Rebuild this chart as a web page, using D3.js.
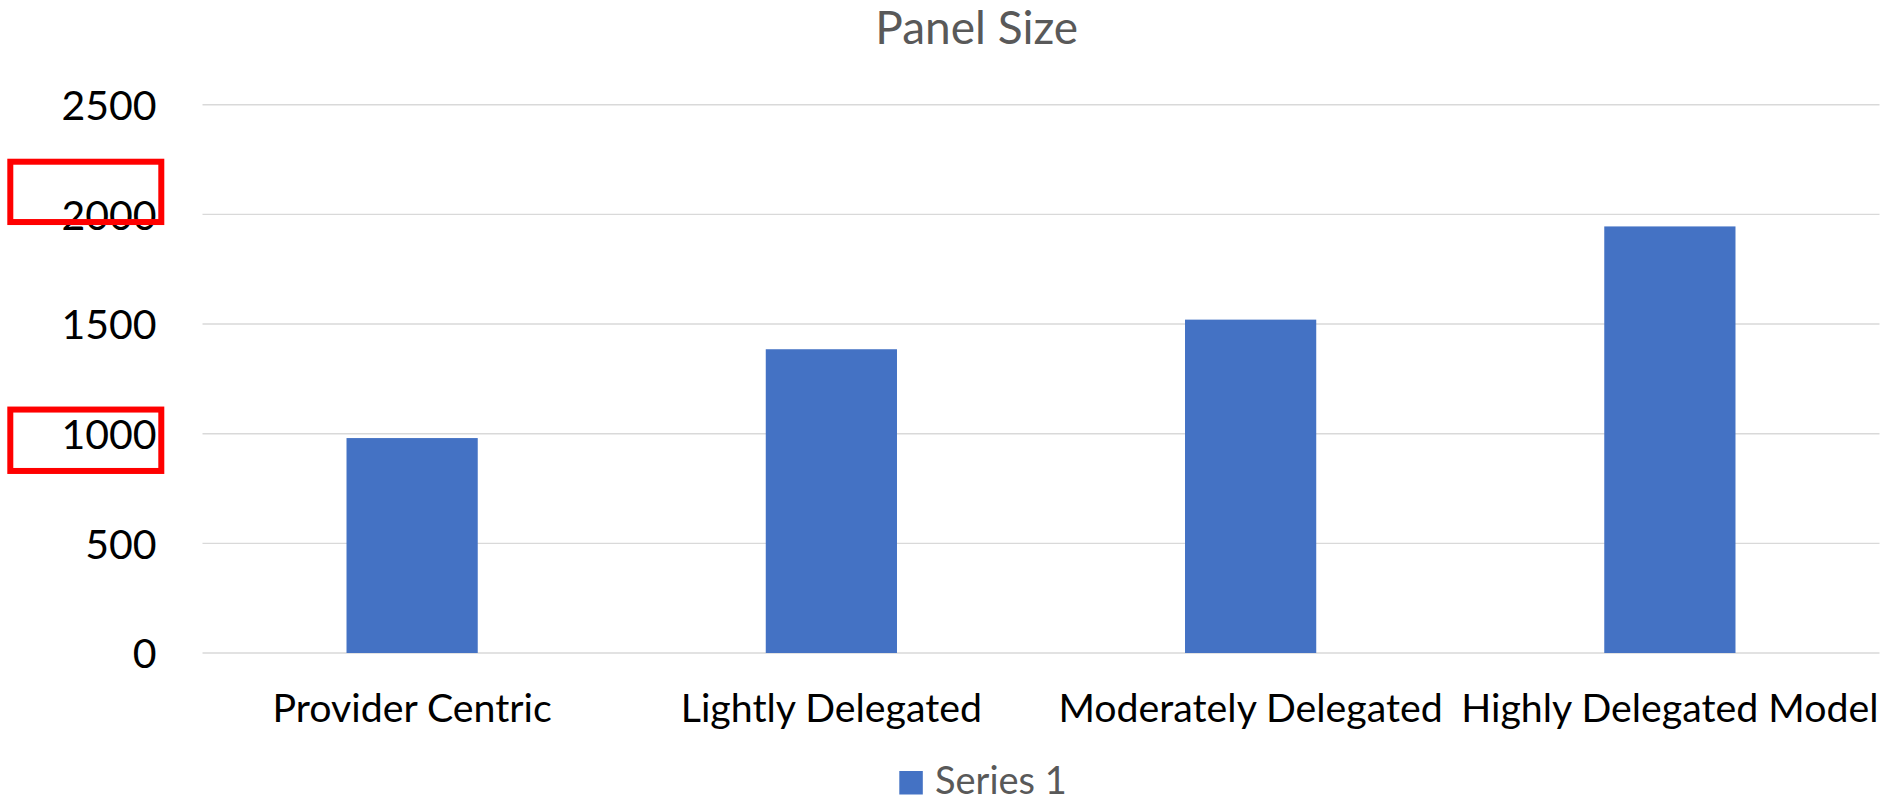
<!DOCTYPE html>
<html>
<head>
<meta charset="utf-8">
<script src="https://cdn.jsdelivr.net/npm/d3@7"></script>
<style>
  html, body { margin: 0; padding: 0; background: #fff; }
  svg { display: block; }
  text { font-family: Lato, "Open Sans", sans-serif; }
</style>
</head>
<body>
<svg id="chart" width="1890" height="800"></svg>
<script>
// Panel size by delegation model
const categories = ["Provider Centric", "Lightly Delegated", "Moderately Delegated", "Highly Delegated Model"];
const panelSize = [980, 1385, 1520, 1945];
const yTicks = [0, 500, 1000, 1500, 2000, 2500];
const seriesName = "Series 1";
const chartTitle = "Panel Size";
// highlighted value ranges on the y axis labels (data units)
const highlightRanges = [[1965, 2240], [830, 1110]];

const W = 1890, H = 800;
const margin = { left: 202.5, right: 10.5, top: 104.7, bottom: 147 };
const svg = d3.select("#chart");

const x = d3.scaleBand()
  .domain(categories)
  .range([margin.left, W - margin.right])
  .paddingInner(0.687)
  .paddingOuter(0.3435);

const y = d3.scaleLinear()
  .domain([0, 2500])
  .range([H - margin.bottom, margin.top]);

// gridlines
svg.append("g")
  .selectAll("line")
  .data(yTicks)
  .join("line")
  .attr("x1", margin.left)
  .attr("x2", W - margin.right)
  .attr("y1", d => y(d))
  .attr("y2", d => y(d))
  .attr("stroke", "#d9d9d9")
  .attr("stroke-width", 1.4);

// y axis labels
const yAxis = d3.axisLeft(y).tickValues(yTicks).tickSize(0).tickPadding(46).tickFormat(d3.format("d"));
const gy = svg.append("g").attr("transform", `translate(${margin.left},0)`).call(yAxis);
gy.select(".domain").remove();
gy.selectAll("text")
  .attr("font-family", "Lato, sans-serif")
  .attr("font-size", 41)
  .attr("fill", "#000")
  .attr("dy", "0.36em");

// bars
svg.append("g")
  .selectAll("rect")
  .data(categories.map((c, i) => ({ c, v: panelSize[i] })))
  .join("rect")
  .attr("x", d => x(d.c))
  .attr("width", x.bandwidth())
  .attr("y", d => y(d.v))
  .attr("height", d => y(0) - y(d.v))
  .attr("fill", "#4472c4");

// category labels
const xAxis = d3.axisBottom(x).tickSize(0).tickPadding(0);
const gx = svg.append("g").attr("transform", `translate(0,${y(0)})`).call(xAxis);
gx.select(".domain").remove();
gx.selectAll("text")
  .attr("font-family", "Lato, sans-serif")
  .attr("font-size", 39.3)
  .attr("fill", "#000")
  .attr("dy", null)
  .attr("y", 69);

// title
svg.append("text")
  .attr("x", 976.7)
  .attr("y", 44.3)
  .attr("text-anchor", "middle")
  .attr("font-size", 46)
  .attr("fill", "#595959")
  .text(chartTitle);

// legend
const lg = svg.append("g");
lg.append("rect")
  .attr("x", 899.3).attr("y", 771)
  .attr("width", 23.5).attr("height", 23.5)
  .attr("fill", "#4472c4");
lg.append("text")
  .attr("x", 935)
  .attr("y", 794)
  .attr("font-size", 38)
  .attr("fill", "#595959")
  .text(seriesName);

// highlight boxes around y axis labels
svg.append("g")
  .selectAll("rect")
  .data(highlightRanges)
  .join("rect")
  .attr("x", 10.3)
  .attr("width", margin.left - 41.2 - 10.3)
  .attr("y", d => y(d[1]))
  .attr("height", d => y(d[0]) - y(d[1]))
  .attr("fill", "none")
  .attr("stroke", "#ff0000")
  .attr("stroke-width", 6);
</script>
</body>
</html>
